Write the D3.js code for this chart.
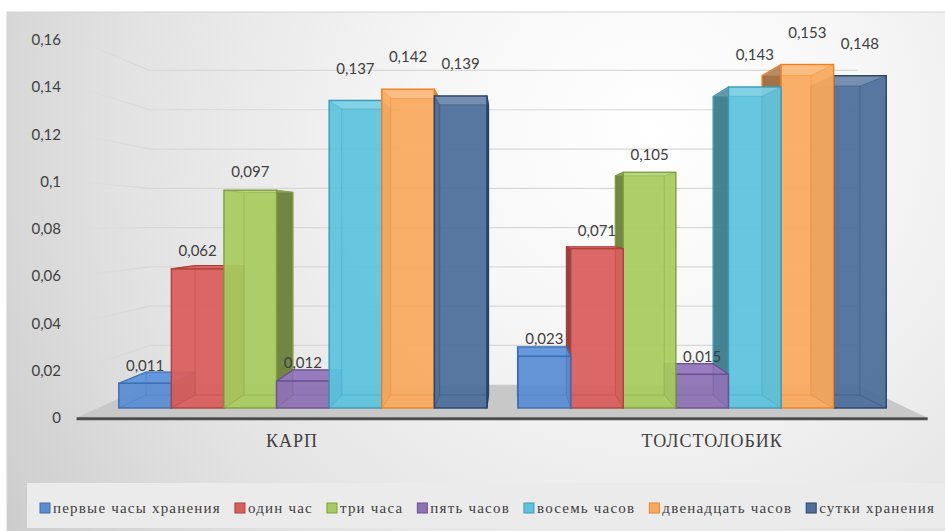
<!DOCTYPE html>
<html>
<head>
<meta charset="utf-8">
<script src="https://cdn.jsdelivr.net/npm/d3@7"></script>
<style>
  body { margin: 0; background: #ffffff; }
  svg { display: block; }
</style>
</head>
<body>
<svg id="chart" width="945" height="531"></svg>
<script>
// ---- data ----
const categories = ["КАРП", "ТОЛСТОЛОБИК"];
const seriesNames = [
  "первые часы хранения", "один час", "три часа", "пять часов",
  "восемь часов", "двенадцать часов", "сутки хранения"
];
const karpValues = [0.011, 0.062, 0.097, 0.012, 0.137, 0.142, 0.139];
const tolstolobikValues = [0.023, 0.071, 0.105, 0.015, 0.143, 0.153, 0.148];
const yTicks = [0, 0.02, 0.04, 0.06, 0.08, 0.1, 0.12, 0.14, 0.16];

const seriesColors  = ["#5a8dd3", "#d95f5c", "#a8cb60", "#8e72b6", "#5ec3de", "#f9aa5f", "#4e6f9a"];
const seriesStrokes = ["#3b6eb2", "#b0403d", "#7f9f3c", "#6b5192", "#3a9bb6", "#f07f1e", "#24426b"];

const valuesByCategory = [karpValues, tolstolobikValues];

// ---- setup ----
const W = 945, H = 531;
const svg = d3.select("#chart");
const defs = svg.append("defs");

const ru = d3.formatLocale({ decimal: ",", thousands: "\u00a0", grouping: [3], currency: ["", ""] });
const fmtTick = ru.format("~g");
const fmtValue = ru.format(".3f");

// simple perspective: vanishing point and depth factors of the planes
const VP = { x: 510, y: 222 };
const F_FRONT = 1.052;   // front edge of floor / left wall (axis labels)
const F_BAR = 1.0;       // front faces of the columns
const F_BAR_BACK = 0.93; // back faces of the columns
const F_WALL = 0.875;    // back wall
function proj(X, Y, f) { return [VP.x + (X - VP.x) * f, VP.y + (Y - VP.y) * f]; }

// scales (in the plane of the column fronts)
const y = d3.scaleLinear().domain([0, 0.16]).range([408, 408 - 0.16 * 2245]);
const x0 = d3.scaleBand().domain(categories).range([98, 907]).paddingInner(0.078).paddingOuter(0.052);
const x1 = d3.scaleBand().domain(seriesNames).range([0, x0.bandwidth()]).padding(0);
const XL = 98, XR = 907;

// ---- background ----
const bg = defs.append("radialGradient").attr("id", "bgGrad")
  .attr("gradientUnits", "userSpaceOnUse").attr("cx", 650).attr("cy", 130).attr("r", 760);
[[0, "#ffffff"], [0.3, "#f6f6f6"], [0.7, "#e2e2e2"], [1, "#cccccc"]]
  .forEach(([o, c]) => bg.append("stop").attr("offset", o).attr("stop-color", c));

svg.append("rect").attr("x", 7).attr("y", 12).attr("width", W).attr("height", H)
  .attr("fill", "url(#bgGrad)").attr("stroke", "#d4d4d4").attr("stroke-width", 1);

// ---- walls: gridlines ----
const gridFade = defs.append("linearGradient").attr("id", "gridFade")
  .attr("gradientUnits", "userSpaceOnUse")
  .attr("x1", proj(XL, 0, F_FRONT)[0]).attr("x2", proj(XL, 0, F_WALL)[0]).attr("y1", 0).attr("y2", 0);
gridFade.append("stop").attr("offset", 0).attr("stop-color", "#d6d6d6").attr("stop-opacity", 0);
gridFade.append("stop").attr("offset", 1).attr("stop-color", "#d6d6d6").attr("stop-opacity", 1);

const grid = svg.append("g");
yTicks.filter(v => v > 0).forEach(v => {
  const a = proj(XL, y(v), F_FRONT), b = proj(XL, y(v), F_WALL), c = proj(XR, y(v), F_WALL);
  grid.append("line").attr("x1", a[0]).attr("y1", a[1]).attr("x2", b[0]).attr("y2", b[1] + 0.01)
    .attr("stroke", "url(#gridFade)").attr("stroke-width", 1.2);
  grid.append("line").attr("x1", b[0]).attr("y1", b[1]).attr("x2", c[0]).attr("y2", c[1])
    .attr("stroke", "#d8d8d8").attr("stroke-width", 1.2);
});

// ---- floor ----
const floorPts = [proj(XL, y(0), F_FRONT), proj(XR, y(0), F_FRONT), proj(XR, y(0), F_WALL), proj(XL, y(0), F_WALL)];
svg.append("path").attr("d", "M" + floorPts.join("L") + "Z").attr("fill", "#c8c8c8");
svg.append("line")
  .attr("x1", floorPts[0][0]).attr("y1", floorPts[0][1] + 1)
  .attr("x2", floorPts[1][0]).attr("y2", floorPts[1][1] + 1)
  .attr("stroke", "#4d4d4d").attr("stroke-width", 3);

// ---- value axis labels on the front edge of the left wall ----
const labelScale = d3.scaleLinear().domain(y.domain())
  .range([proj(XL, y(0), F_FRONT)[1], proj(XL, y(0.16), F_FRONT)[1]]);
const yAxis = svg.append("g").attr("transform", "translate(61,0)")
  .call(d3.axisLeft(labelScale).tickValues(yTicks).tickFormat(fmtTick).tickSize(0).tickPadding(0));
yAxis.select(".domain").remove();
yAxis.selectAll("text").attr("font-family", "Lato, 'Open Sans', sans-serif")
  .attr("font-size", 15).attr("fill", "#404040");

// ---- columns ----
const bars = [];
categories.forEach((cat, ci) => {
  seriesNames.forEach((s, si) => {
    bars.push({ cat, ci, s, si, value: valuesByCategory[ci][si] });
  });
});
bars.forEach(d => {
  d.X0 = x0(d.cat) + x1(d.s);
  d.X1 = d.X0 + x1.bandwidth();
  d.cx = (d.X0 + d.X1) / 2;
});
// far-from-centre columns first, so nearer ones overlap them
const order = bars.slice().sort((a, b) => Math.abs(b.cx - VP.x) - Math.abs(a.cx - VP.x));

const poly = pts => "M" + pts.map(p => p.join(",")).join("L") + "Z";
const barLayer = svg.append("g");

order.forEach(d => {
  const col = seriesColors[d.si], stroke = seriesStrokes[d.si];
  const yT = y(d.value), yB = y(0);
  const FL = proj(d.X0, yT, F_BAR), FR = proj(d.X1, yT, F_BAR);
  const FLb = proj(d.X0, yB, F_BAR), FRb = proj(d.X1, yB, F_BAR);
  const BL = proj(d.X0, yT, F_BAR_BACK), BR = proj(d.X1, yT, F_BAR_BACK);
  const BLb = proj(d.X0, yB, F_BAR_BACK), BRb = proj(d.X1, yB, F_BAR_BACK);
  const g = barLayer.append("g");

  // visible side face
  if (d.X1 < VP.x) {
    g.append("path").attr("d", poly([FR, BR, BRb, FRb]))
      .attr("fill", d3.color(col).darker(1.3)).attr("fill-opacity", 0.95)
      .attr("stroke", stroke).attr("stroke-width", 1.2).attr("stroke-linejoin", "round");
  } else if (d.X0 > VP.x) {
    g.append("path").attr("d", poly([FL, BL, BLb, FLb]))
      .attr("fill", d3.color(col).darker(1.3)).attr("fill-opacity", 0.95)
      .attr("stroke", stroke).attr("stroke-width", 1.2).attr("stroke-linejoin", "round");
  }
  // top face seen from above
  if (yT > VP.y) {
    g.append("path").attr("d", poly([FL, FR, BR, BL]))
      .attr("fill", d3.color(col).brighter(0.1)).attr("fill-opacity", 0.95)
      .attr("stroke", stroke).attr("stroke-width", 1.2).attr("stroke-linejoin", "round");
  }
  // front face
  g.append("rect").attr("x", FL[0]).attr("y", FL[1])
    .attr("width", FR[0] - FL[0]).attr("height", FLb[1] - FL[1])
    .attr("fill", col).attr("fill-opacity", 0.94);
  // underside of the top, seen through the glass-like front
  if (yT <= VP.y) {
    g.append("path").attr("d", poly([FL, FR, BR, BL]))
      .attr("fill", "#ffffff").attr("fill-opacity", 0.18);
  }
  // hidden edges showing through
  const hidden = [
    [BL, BR], [BR, BRb], [BRb, BLb], [BLb, BL],
    [FL, BL], [FR, BR], [FLb, BLb], [FRb, BRb]
  ];
  hidden.forEach(([p, q]) => {
    g.append("line").attr("x1", p[0]).attr("y1", p[1]).attr("x2", q[0]).attr("y2", q[1])
      .attr("stroke", stroke).attr("stroke-opacity", 0.35).attr("stroke-width", 1);
  });
  // outline of the front face
  g.append("rect").attr("x", FL[0]).attr("y", FL[1])
    .attr("width", FR[0] - FL[0]).attr("height", FLb[1] - FL[1])
    .attr("fill", "none").attr("stroke", stroke).attr("stroke-width", 1.4);
});

// ---- value labels ----
svg.append("g").selectAll("text").data(bars).join("text")
  .attr("x", d => d.cx)
  .attr("y", d => y(d.value) - (d.value >= 0.12 ? 32 : 18))
  .attr("dy", "0.35em")
  .attr("text-anchor", "middle")
  .attr("font-family", "Lato, 'Open Sans', sans-serif")
  .attr("font-size", 15).attr("fill", "#404040")
  .text(d => fmtValue(d.value));

// ---- category labels ----
svg.append("g").selectAll("text").data(categories).join("text")
  .attr("x", c => proj(x0(c) + x0.bandwidth() / 2, 0, F_FRONT)[0])
  .attr("y", 441).attr("dy", "0.35em").attr("text-anchor", "middle")
  .attr("font-family", "'Liberation Serif', 'DejaVu Serif', serif").attr("font-size", 18)
  .attr("letter-spacing", 1)
  .attr("fill", "#404040")
  .text(c => c);

// ---- legend ----
svg.append("rect").attr("x", 27).attr("y", 483).attr("width", W).attr("height", 45)
  .attr("fill", "#ebebeb");
const legend = svg.append("g");
const legendItems = legend.selectAll("g").data(seriesNames).join("g");
legendItems.append("rect").attr("width", 10).attr("height", 10)
  .attr("fill", (d, i) => seriesColors[i]).attr("stroke", (d, i) => seriesStrokes[i]).attr("stroke-width", 1);
const legendTexts = legendItems.append("text").attr("x", 13).attr("y", 5).attr("dy", "0.35em")
  .attr("font-family", "'Liberation Serif', 'DejaVu Serif', serif").attr("font-size", 15).attr("fill", "#404040")
  .text(d => d);
// spread the entries over the legend line
const natural = legendTexts.nodes().map(n => n.getComputedTextLength());
const chars = seriesNames.reduce((s, t) => s + t.length, 0);
const startX = 40, endX = 935, gap = 14;
const spare = (endX - startX) - d3.sum(natural) - seriesNames.length * 13 - (seriesNames.length - 1) * gap;
const ls = Math.max(0, spare / chars);
legendTexts.attr("letter-spacing", ls);
let cursor = startX;
legendItems.each(function (d, i) {
  d3.select(this).attr("transform", `translate(${cursor},503)`);
  cursor += 13 + natural[i] + d.length * ls + gap;
});
</script>
</body>
</html>
